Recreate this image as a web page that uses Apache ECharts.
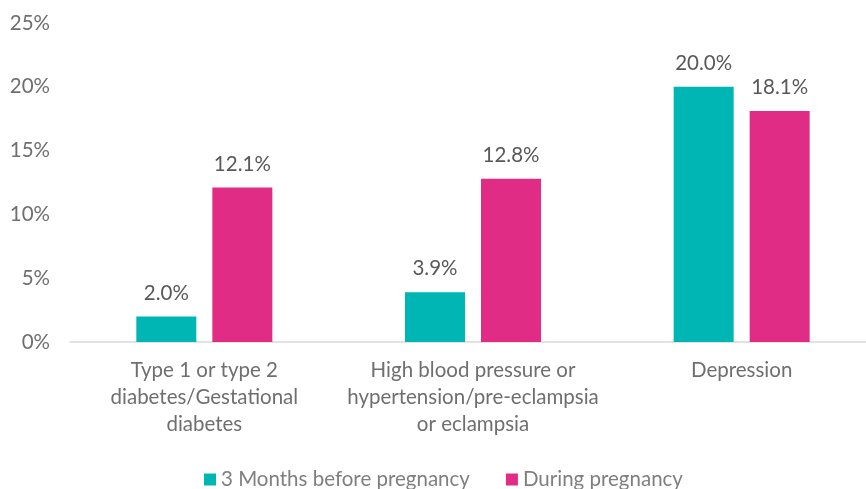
<!DOCTYPE html>
<html>
<head>
<meta charset="utf-8">
<script src="https://cdn.jsdelivr.net/npm/echarts@6/dist/echarts.min.js"></script>
<style>
  html, body { margin: 0; padding: 0; background: #fff; }
  #chart { width: 866px; height: 489px; }
</style>
</head>
<body>
<div id="chart"></div>
<script>
// categories and values (percent)
var categories = [
  'Type 1 or type 2\ndiabetes/Gestational\ndiabetes',
  'High blood pressure or\nhypertension/pre-eclampsia\nor eclampsia',
  'Depression'
];
var before = [2.0, 3.9, 20.0];   // 3 Months before pregnancy
var during = [12.1, 12.8, 18.1]; // During pregnancy
var seriesNames = ['3 Months before pregnancy', 'During pregnancy'];

var font = 'Lato, "Open Sans", sans-serif';
var fs = 20.5;

var labelOpt = {
  show: true,
  position: 'top',
  distance: 13,
  color: '#595959',
  fontFamily: font,
  fontSize: fs,
  formatter: function(p) { return p.value.toFixed(1) + '%'; }
};

var chart = echarts.init(document.getElementById('chart'));
chart.setOption({
  animation: false,
  textStyle: { fontFamily: font },
  grid: { left: 70, width: 806, top: 23, bottom: 147, outerBoundsMode: 'none' },
  legend: {
    bottom: -6,
    left: 199,
    itemWidth: 12,
    itemHeight: 12,
    itemGap: 36,
    icon: 'rect',
    textStyle: { color: '#7f7f7f', fontSize: fs, fontFamily: font },
    data: seriesNames
  },
  xAxis: {
    type: 'category',
    data: categories,
    axisLine: { lineStyle: { color: '#d9d9d9', width: 1.5 } },
    axisTick: { show: false },
    axisLabel: {
      color: '#6f6f6f', fontSize: fs, fontFamily: font,
      lineHeight: 27, margin: 15, interval: 0
    }
  },
  yAxis: {
    type: 'value',
    min: 0,
    max: 25,
    interval: 5,
    splitLine: { show: false },
    axisLine: { show: false },
    axisTick: { show: false },
    axisLabel: {
      color: '#6f6f6f', fontSize: fs, fontFamily: font, margin: 20,
      formatter: '{value}%'
    }
  },
  series: [{
    name: seriesNames[0],
    type: 'bar',
    data: before,
    barWidth: 60,
    barGap: '26.7%',
    itemStyle: { color: '#00b6b4' },
    label: labelOpt
  }, {
    name: seriesNames[1],
    type: 'bar',
    data: during,
    barWidth: 60,
    itemStyle: { color: '#e02c84' },
    label: labelOpt
  }]
});
</script>
</body>
</html>
